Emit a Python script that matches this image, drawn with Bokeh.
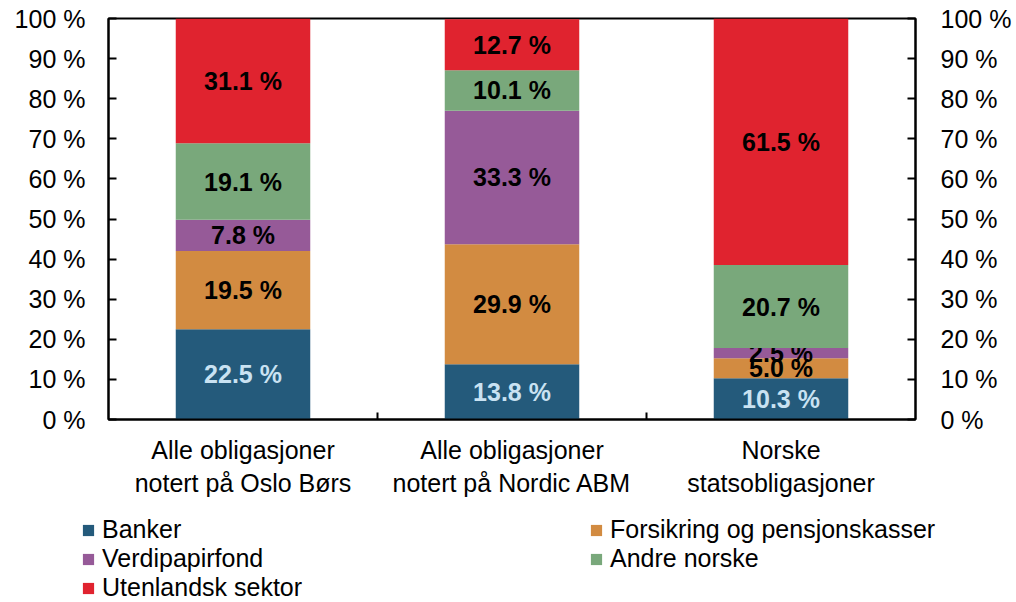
from bokeh.plotting import figure
from bokeh.layouts import column, row
from bokeh.models import (ColumnDataSource, LinearAxis, FixedTicker, Range1d,
                          Legend, LegendItem, PrintfTickFormatter)
from bokeh.embed import file_html
from bokeh.resources import INLINE
from bokeh.core.properties import value

categories = ["Alle obligasjoner\nnotert på Oslo Børs",
              "Alle obligasjoner\nnotert på Nordic ABM",
              "Norske\nstatsobligasjoner"]
series = ["Banker", "Forsikring og pensjonskasser", "Verdipapirfond",
          "Andre norske", "Utenlandsk sektor"]
banker = [22.5, 13.8, 10.3]
forsikring = [19.5, 29.9, 5.0]
verdipapirfond = [7.8, 33.3, 2.5]
andre_norske = [19.1, 10.1, 20.7]
utenlandsk = [31.1, 12.7, 61.5]
y_ticks = [0, 10, 20, 30, 40, 50, 60, 70, 80, 90, 100]

colors = ["#245a7b", "#d28b41", "#965a98", "#79a87b", "#e0232f"]
label_colors = ["#c9e2f2", "#000000", "#000000", "#000000", "#000000"]
values = [banker, forsikring, verdipapirfond, andre_norske, utenlandsk]

FONT = "Liberation Sans"
FS = "25px"

p = figure(width=1016, height=500, output_backend="svg", toolbar_location=None,
           x_range=Range1d(0, 3), y_range=Range1d(0, 100),
           min_border_left=108, min_border_right=101, min_border_top=18,
           min_border_bottom=81)
p.grid.visible = False
p.outline_line_color = "black"
p.outline_line_width = 2

# separate legend strip under the chart (its ranges keep its bars out of view)
lg = figure(width=1016, height=102, output_backend="svg", toolbar_location=None,
            x_range=Range1d(0, 3), y_range=Range1d(1000, 1001),
            x_axis_location=None, y_axis_location=None,
            min_border_left=0, min_border_right=0, min_border_top=0,
            min_border_bottom=0)
lg.grid.visible = False
lg.outline_line_color = None

x = [i + 0.5 for i in range(len(categories))]
bottoms = [0.0] * len(categories)
legend_items = []
for s, vals, col, lcol in zip(series, values, colors, label_colors):
    tops = [b + v for b, v in zip(bottoms, vals)]
    src = ColumnDataSource(dict(x=x, bottom=bottoms, top=tops,
                                mid=[(b + t) / 2 for b, t in zip(bottoms, tops)],
                                lab=[f"{v:.1f} %" for v in vals]))
    p.vbar(x="x", bottom="bottom", top="top", width=0.5, source=src,
           fill_color=col, line_color=None)
    p.text(x="x", y="mid", text="lab", source=src, text_align="center",
           text_baseline="middle", text_font=value(FONT), text_font_size=FS,
           text_font_style="bold", text_color=lcol)
    r = lg.vbar(x="x", bottom="bottom", top="top", width=0.5, source=src,
                fill_color=col, line_color=None)
    legend_items.append(LegendItem(label=s, renderers=[r]))
    bottoms = tops

# axes
xa = p.xaxis[0]
xa.ticker = FixedTicker(ticks=x, minor_ticks=[1, 2])
xa.major_label_overrides = {xi: c for xi, c in zip(x, categories)}
xa.major_tick_in = 0
xa.major_tick_out = 0
xa.minor_tick_in = 7
xa.minor_tick_out = 0
xa.minor_tick_line_width = 2
xa.axis_line_width = 2
xa.major_label_standoff = 16
xa.major_label_text_font = FONT
xa.major_label_text_font_size = FS
xa.major_label_text_line_height = 1.2
xa.major_label_text_color = "black"

ya = p.yaxis[0]
ra = LinearAxis()
p.add_layout(ra, "right")
for ax, so in ((ya, 23), (ra, 25)):
    ax.ticker = FixedTicker(ticks=y_ticks)
    ax.formatter = PrintfTickFormatter(format="%d %%")
    ax.major_tick_in = 8
    ax.major_tick_out = 0
    ax.minor_tick_in = 0
    ax.minor_tick_out = 0
    ax.major_tick_line_width = 2
    ax.axis_line_width = 2
    ax.major_label_standoff = so
    ax.major_label_text_font = FONT
    ax.major_label_text_font_size = FS
    ax.major_label_text_color = "black"

legend = Legend(items=legend_items, orientation="horizontal", ncols=2,
                location=(81, 0))
legend.border_line_color = None
legend.background_fill_alpha = 0
legend.padding = 0
legend.margin = 0
legend.spacing = 0
legend.glyph_width = 14
legend.glyph_height = 14
legend.label_standoff = 7
legend.label_height = 29
legend.label_width = 487
legend.label_text_font = FONT
legend.label_text_font_size = FS
legend.label_text_line_height = 1.0
legend.label_text_color = "black"
legend.label_text_baseline = "middle"
lg.add_layout(legend, "center")

layout = column(p, row(lg), spacing=0)
open("out.html", "w").write(file_html(layout, INLINE))
